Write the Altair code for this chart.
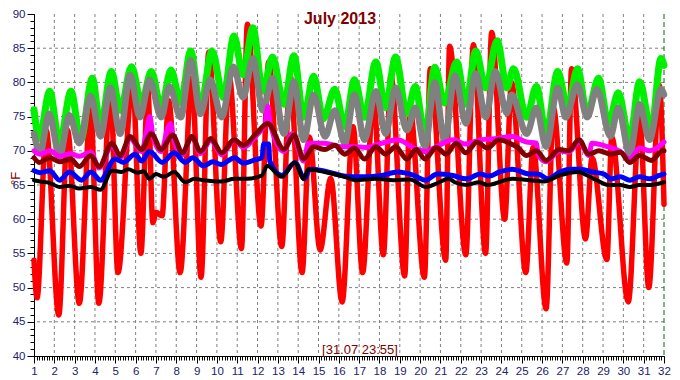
import altair as alt
import pandas as pd

# ---------------- data ----------------
day_ticks = list(range(1, 33))
temp_ticks = list(range(40, 95, 5))
grid_days = list(range(2, 32))
grid_temps = list(range(45, 90, 5))
minor_days = [1 + k / 8 for k in range(0, 31 * 8 + 1)]
minor_temps = list(range(40, 91))
end_marker = [32]

red_days = [1.0, 1.15, 1.6, 2.22, 2.65, 3.23, 3.78, 4.19, 4.76, 5.13, 5.85, 6.26, 6.6, 6.85, 7.0, 7.3,
            7.63, 8.19, 8.77, 9.22, 9.6, 10.19, 10.6, 11.21, 11.5, 12.17, 12.55, 13.19, 13.6, 14.19,
            14.55, 15.08, 15.6, 16.16, 16.7, 17.17, 17.7, 18.19, 18.56, 19.24, 19.5, 20.21, 20.5,
            21.26, 21.45, 22.25, 22.62, 23.22, 23.52, 24.16, 24.5, 25.2, 25.56, 26.2, 26.55, 27.22,
            27.45, 28.14, 28.46, 29.19, 29.43, 30.24, 30.8, 31.25, 31.77, 32.0]
red_vals = [54.0, 48.5, 73.0, 46.0, 73.0, 47.7, 76.0, 47.7, 79.2, 52.2, 80.2, 55.0, 79.0, 59.5, 61.0, 60.5,
            77.3, 52.2, 80.6, 51.5, 84.4, 56.7, 81.0, 55.7, 88.5, 59.0, 83.0, 56.0, 81.0, 52.2,
            72.0, 55.5, 66.0, 47.9, 73.5, 52.2, 77.8, 54.8, 81.0, 51.7, 76.0, 51.5, 82.0,
            54.0, 85.3, 54.8, 85.5, 55.0, 87.3, 60.0, 80.0, 52.2, 70.5, 46.9, 76.3, 53.6,
            82.0, 57.1, 69.0, 54.1, 72.0, 47.9, 74.9, 50.0, 79.6, 62.2]

green_days = [1.0, 1.26, 1.77, 2.26, 2.82, 3.3, 3.87, 4.27, 4.81, 5.24, 5.8, 6.29, 6.77, 7.26, 7.74, 8.22,
              8.71, 9.19, 9.76, 10.32, 10.84, 11.29, 11.77, 12.26, 12.74, 13.3, 13.79, 14.27, 14.76,
              15.24, 15.8, 16.29, 16.77, 17.26, 17.82, 18.3, 18.79, 19.35, 19.76, 20.24, 20.72, 21.2,
              21.8, 22.25, 22.74, 23.22, 23.79, 24.27, 24.6, 25.24, 25.72, 26.2, 26.77, 27.26, 27.74,
              28.22, 28.78, 29.27, 29.75, 30.31, 30.8, 31.37, 31.85, 32.0]
green_vals = [76.0, 71.8, 78.7, 71.1, 78.7, 71.6, 80.6, 73.5, 81.6, 75.9, 82.3, 77.0, 81.6, 76.3, 81.8, 77.0,
              84.6, 76.3, 84.6, 77.8, 86.8, 81.1, 88.0, 78.7, 83.7, 76.8, 83.9, 74.9, 80.9,
              74.7, 79.0, 73.5, 80.4, 74.9, 83.0, 76.3, 83.7, 75.4, 79.4, 72.1, 82.2, 77.0,
              83.0, 76.8, 84.6, 79.2, 86.1, 79.2, 82.0, 74.9, 79.4, 72.5, 81.6, 76.3, 82.0,
              75.4, 80.6, 74.0, 78.5, 71.6, 80.1, 73.0, 83.5, 82.5]

gray_days = [1.0, 1.3, 1.74, 2.26, 2.74, 3.23, 3.79, 4.27, 4.76, 5.24, 5.73, 6.21, 6.69, 7.26, 7.66, 8.22,
             8.71, 9.19, 9.67, 10.24, 10.81, 11.29, 11.77, 12.26, 12.74, 13.3, 13.79, 14.27, 14.76,
             15.32, 15.8, 16.29, 16.77, 17.26, 17.82, 18.3, 18.79, 19.35, 19.76, 20.24, 20.72, 21.2,
             21.72, 22.25, 22.74, 23.22, 23.7, 24.27, 24.5, 25.24, 25.72, 26.2, 26.77, 27.17, 27.74,
             28.22, 28.7, 29.36, 29.75, 30.31, 30.8, 31.29, 31.85, 32.0]
gray_vals = [72.5, 69.7, 75.4, 69.2, 75.2, 71.1, 78.0, 72.1, 79.2, 72.5, 81.1, 74.9, 80.4, 74.9, 79.4, 74.9,
             83.2, 75.4, 80.4, 74.9, 82.3, 77.8, 83.5, 75.9, 80.6, 72.5, 80.1, 71.6, 78.2,
             72.1, 75.9, 71.1, 78.2, 71.6, 78.7, 72.5, 79.2, 73.0, 76.3, 70.6, 80.0, 71.5,
             81.0, 74.0, 81.3, 74.9, 81.6, 75.5, 78.2, 72.5, 76.3, 70.6, 79.2, 74.9, 79.7,
             74.9, 79.0, 72.1, 76.3, 69.5, 76.8, 71.6, 79.0, 78.2]

magenta_days = [1.0, 1.3, 1.77, 2.26, 2.8, 3.23, 3.79, 4.2, 4.84, 5.24, 5.73, 6.29, 6.55, 6.7, 6.85, 7.26,
                7.6, 7.72, 7.85, 8.3, 8.77, 9.19, 9.7, 10.24, 10.87, 11.3, 11.93, 12.38, 12.5, 12.62,
                13.3, 13.7, 14.27, 14.5, 15.3, 16.1, 16.8, 17.3, 18.1, 18.9, 19.7, 20.3, 20.8, 21.64,
                22.2, 22.96, 23.8, 24.53, 25.2, 25.73, 25.8, 26.2, 26.87, 27.3, 27.82, 28.3, 28.45,
                29.23, 29.85, 30.31, 30.8, 31.3, 32.0]
magenta_vals = [70.0, 69.5, 70.0, 69.2, 69.6, 69.2, 69.8, 67.5, 70.8, 69.0, 71.8, 69.9, 73.0, 75.0, 72.2, 69.9,
                73.5, 74.0, 72.0, 69.4, 72.1, 69.6, 71.5, 69.4, 71.6, 70.5, 72.2, 74.0, 76.5, 74.0,
                69.9, 72.5, 68.5, 71.1, 71.1, 70.6, 70.6, 70.5, 71.1, 71.6, 70.4, 69.9, 70.6, 71.6,
                71.0, 71.6, 71.8, 72.1, 71.3, 71.1, 69.5, 68.4, 70.0, 69.8, 71.3, 69.3, 71.1,
                70.6, 69.9, 68.8, 70.4, 70.0, 71.3]

darkred_days = [1.0, 1.26, 1.77, 2.26, 2.8, 3.23, 3.79, 4.2, 4.84, 5.24, 5.73, 6.29, 6.77, 7.26, 7.82, 8.3,
                8.77, 9.19, 9.7, 10.24, 10.84, 11.3, 11.93, 12.5, 13.3, 13.79, 14.27, 14.76, 15.32, 15.8,
                16.29, 16.77, 17.26, 17.82, 18.3, 18.79, 19.35, 19.8, 20.24, 20.8, 21.28, 21.77, 22.25,
                22.8, 23.3, 23.87, 24.4, 24.8, 25.24, 25.72, 26.2, 26.85, 27.3, 27.82, 28.3, 28.8, 29.4,
                29.85, 30.31, 30.8, 31.37, 31.93, 32.0]
darkred_vals = [69.0, 68.3, 69.0, 68.4, 68.8, 67.7, 69.3, 67.7, 71.1, 69.3, 72.1, 70.2, 72.5, 70.2, 72.3, 69.7,
                72.1, 69.9, 71.8, 69.7, 71.6, 70.8, 72.5, 74.0, 70.2, 72.3, 68.8, 70.6, 70.2, 70.8,
                69.5, 70.4, 68.8, 70.6, 69.5, 70.6, 68.8, 70.2, 68.8, 70.5, 69.5, 71.1, 69.7,
                71.3, 70.4, 71.6, 71.1, 70.5, 69.3, 70.0, 68.6, 70.2, 70.0, 71.6, 69.5, 70.0, 69.5,
                69.8, 68.3, 69.3, 68.6, 70.0, 70.0]

blue_days = [1.0, 1.3, 1.77, 2.26, 2.74, 3.34, 3.8, 4.27, 4.99, 5.4, 5.97, 6.3, 6.68, 7.32, 7.89, 8.45,
             8.8, 9.34, 9.8, 10.2, 10.87, 11.3, 11.9, 12.22, 12.3, 12.55, 12.6, 13.2, 13.84, 14.32,
             14.56, 15.2, 15.6, 16.1, 16.66, 17.3, 18.1, 18.9, 19.7, 20.27, 20.83, 21.6, 22.27, 22.96,
             23.4, 23.9, 24.53, 25.4, 25.8, 26.3, 26.87, 27.41, 27.9, 28.5, 29.05, 29.4, 29.85, 30.32,
             30.8, 31.3, 31.77, 32.0]
blue_vals = [67.1, 66.8, 67.1, 65.7, 66.9, 65.7, 66.9, 65.7, 68.8, 68.3, 69.5, 68.5, 69.9, 68.3, 69.7, 68.3,
             69.0, 67.8, 68.4, 68.0, 69.0, 68.2, 68.7, 69.0, 71.0, 71.0, 68.5, 66.4, 68.3, 65.9,
             67.3, 67.1, 66.8, 66.4, 66.2, 66.2, 66.4, 66.9, 66.4, 65.7, 66.6, 66.4, 65.9, 66.6,
             66.3, 66.9, 67.3, 66.6, 66.6, 65.9, 66.9, 67.3, 67.3, 66.9, 66.6, 65.9, 66.2, 65.7,
             66.2, 65.9, 66.4, 66.6]

black_days = [1.0, 1.3, 1.77, 2.26, 2.74, 3.23, 3.8, 4.27, 4.84, 5.3, 5.64, 6.1, 6.4, 6.68, 7.0, 7.4,
              7.89, 8.45, 8.9, 9.34, 10.2, 10.87, 11.45, 12.22, 12.47, 13.19, 13.84, 14.27, 14.5, 15.3,
              16.29, 16.8, 17.8, 18.7, 19.5, 20.3, 20.8, 21.4, 21.7, 22.27, 22.9, 23.3, 24.53, 25.4,
              26.1, 26.87, 27.74, 28.55, 29.27, 29.85, 30.32, 30.8, 31.3, 32.0]
black_vals = [65.7, 65.5, 65.3, 64.7, 64.9, 64.5, 64.7, 64.3, 67.1, 66.9, 67.3, 66.8, 67.0, 65.9, 66.6, 66.2,
              66.9, 65.4, 65.9, 65.7, 65.5, 65.9, 65.9, 66.4, 67.8, 66.2, 68.3, 65.9, 67.3, 66.9,
              66.2, 65.7, 65.9, 65.7, 65.8, 64.7, 65.2, 65.9, 65.4, 65.0, 65.4, 65.0, 65.9, 65.7,
              65.5, 66.4, 66.9, 65.9, 65.0, 65.0, 64.7, 65.0, 65.0, 65.4]

title_text = ["July 2013"]
stamp_text = ["[31.07 23:55]"]
y_title = "°F"

# ---------------- chart ----------------
W, H = 630, 342
FONT = "Liberation Sans"
LABEL = "#22226e"
MAROON = "#800000"

xs = alt.Scale(domain=[1, 32], nice=False, zero=False)
ys = alt.Scale(domain=[40, 90], nice=False, zero=False)


def series(days, vals, color, width):
    df = pd.DataFrame({"day": days, "temp": vals})
    return alt.Chart(df).mark_line(color=color, strokeWidth=width, strokeJoin="round",
                                   strokeCap="round", interpolate="monotone").encode(
        x=alt.X("day:Q", scale=xs, axis=None),
        y=alt.Y("temp:Q", scale=ys, axis=None),
    )


grid_x = alt.Chart(pd.DataFrame({"day": grid_days})).mark_rule(
    color="#808080", strokeDash=[3, 3], strokeWidth=1).encode(
    x=alt.X("day:Q", scale=xs, axis=None))
grid_y = alt.Chart(pd.DataFrame({"temp": grid_temps})).mark_rule(
    color="#808080", strokeDash=[3, 3], strokeWidth=1).encode(
    y=alt.Y("temp:Q", scale=ys, axis=None))
end_rule = alt.Chart(pd.DataFrame({"day": end_marker})).mark_rule(
    color="#007000", strokeDash=[5, 3], strokeWidth=1).encode(
    x=alt.X("day:Q", scale=xs, axis=None))

anchor = pd.DataFrame({"day": [1], "temp": [40]})
major_axes = alt.Chart(anchor).mark_point(opacity=0).encode(
    x=alt.X("day:Q", scale=xs, axis=alt.Axis(
        orient="bottom", values=day_ticks, tickSize=7, tickColor="black", domainColor="black",
        grid=False, labelColor=LABEL, labelFont=FONT, labelFontSize=11.5, labelPadding=2,
        labelFlush=False, labelOverlap=False, title=None, format="d")),
    y=alt.Y("temp:Q", scale=ys, axis=alt.Axis(
        orient="left", values=temp_ticks, tickSize=7, tickColor="black", domainColor="black",
        grid=False, labelColor=LABEL, labelFont=FONT, labelFontSize=11.5, labelPadding=2,
        labelFlush=False, labelOverlap=False, format="d",
        title=y_title, titleColor=MAROON, titleFont=FONT, titleFontSize=13,
        titleFontWeight="normal", titleAngle=270, titleX=-19, titleY=164,
        titleAlign="center", titleBaseline="middle")),
)
minor_axes = alt.Chart(anchor).mark_point(opacity=0).encode(
    x=alt.X("day:Q", scale=xs, axis=alt.Axis(
        orient="bottom", values=minor_days, tickSize=4, tickColor="black", domain=False,
        grid=False, labels=False, title=None)),
    y=alt.Y("temp:Q", scale=ys, axis=alt.Axis(
        orient="left", values=minor_temps, tickSize=4, tickColor="black", domain=False,
        grid=False, labels=False, title=None)),
)

title = alt.Chart(pd.DataFrame({"t": title_text})).mark_text(
    font=FONT, fontSize=16, fontWeight="bold", color=MAROON, align="center", baseline="middle").encode(
    text="t:N", x=alt.value(306), y=alt.value(5))
stamp = alt.Chart(pd.DataFrame({"t": stamp_text})).mark_text(
    font=FONT, fontSize=13, color=MAROON, align="center", baseline="bottom").encode(
    text="t:N", x=alt.value(326), y=alt.value(H + 1))

chart = alt.layer(
    grid_x, grid_y, end_rule,
    series(red_days, red_vals, "#ff0000", 5.5),
    series(green_days, green_vals, "#00f000", 7),
    series(gray_days, gray_vals, "#808080", 6.5),
    series(magenta_days, magenta_vals, "#ff00ff", 5),
    series(darkred_days, darkred_vals, "#800000", 5),
    series(blue_days, blue_vals, "#0000ff", 5),
    series(black_days, black_vals, "#000000", 4),
    major_axes, minor_axes, title, stamp,
).resolve_axis(x="independent", y="independent").properties(
    width=W, height=H, autosize="none",
    padding={"left": 26, "top": 6, "right": 8, "bottom": 22},
    background="white",
).configure_view(strokeWidth=0)

chart.save("out.html", embed_options={"renderer": "svg", "actions": False})
